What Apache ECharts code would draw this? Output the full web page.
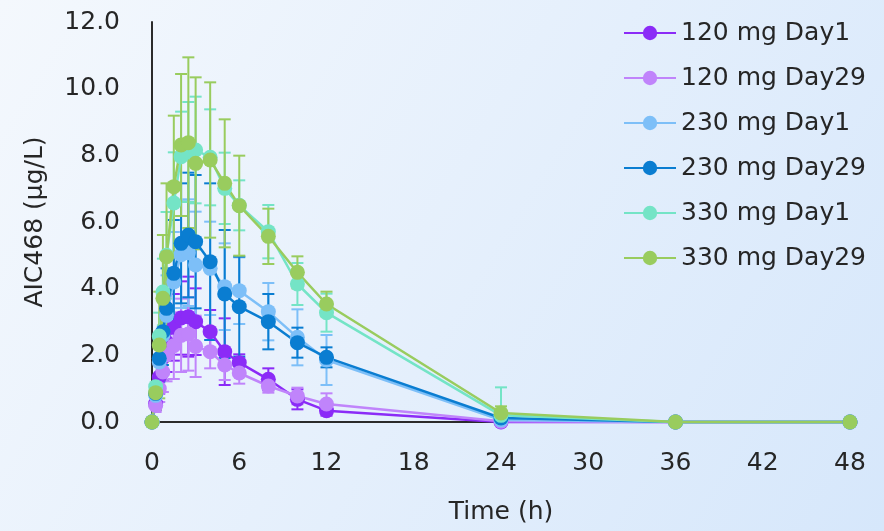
<!DOCTYPE html>
<html>
<head>
<meta charset="utf-8">
<title>AIC468 concentration-time</title>
<script src="https://cdn.jsdelivr.net/npm/echarts@6/dist/echarts.min.js"></script>
<style>
  html, body { margin: 0; padding: 0; }
  #chart { width: 884px; height: 531px; }
</style>
</head>
<body>
<div id="chart"></div>
<script>
// sampling times (h)
var times = [0, 0.25, 0.5, 0.75, 1, 1.5, 2, 2.5, 3, 4, 5, 6, 8, 10, 12, 24, 36, 48];

var seriesNames = ['120 mg Day1', '120 mg Day29', '230 mg Day1', '230 mg Day29', '330 mg Day1', '330 mg Day29'];
var seriesColors = ['#8b2bf7', '#c084fb', '#7dbff8', '#0a7dd1', '#74e4c6', '#99cc5e'];

// mean concentrations (ug/L)
var mean120d1  = [0, 0.55, 1.35, 1.95, 2.4, 2.84, 3.12, 3.16, 3.01, 2.71, 2.11, 1.78, 1.28, 0.68, 0.34, 0, 0, 0];
var mean120d29 = [0, 0.5, 1.0, 1.5, 2.02, 2.29, 2.6, 2.64, 2.27, 2.11, 1.71, 1.47, 1.08, 0.78, 0.54, 0.02, 0, 0];
var mean230d1  = [0, 0.8, 1.8, 2.6, 3.2, 4.2, 5.02, 5.08, 4.71, 4.61, 4.06, 3.94, 3.31, 2.54, 1.86, 0.06, 0, 0];
var mean230d29 = [0, 0.86, 1.91, 2.71, 3.41, 4.46, 5.36, 5.61, 5.41, 4.81, 3.84, 3.46, 3.01, 2.38, 1.94, 0.12, 0, 0];
var mean330d1  = [0, 1.06, 2.58, 3.9, 5.0, 6.57, 7.96, 8.1, 8.16, 7.94, 7.01, 6.5, 5.71, 4.14, 3.28, 0.2, 0, 0];
var mean330d29 = [0, 0.88, 2.31, 3.71, 4.96, 7.06, 8.31, 8.38, 7.76, 7.86, 7.16, 6.49, 5.57, 4.49, 3.54, 0.27, 0, 0];

// standard deviations
var sd120d1  = [0, 0.2, 0.5, 0.7, 0.9, 1.0, 1.1, 1.2, 1.0, 0.65, 1.0, 0.25, 0.33, 0.3, 0.15, 0, 0, 0];
var sd120d29 = [0, 0.2, 0.4, 0.6, 0.8, 1.0, 1.1, 1.1, 0.92, 0.5, 0.45, 0.32, 0.2, 0.25, 0.32, 0, 0, 0];
var sd230d1  = [0, 0.3, 0.8, 1.0, 1.2, 1.5, 1.6, 1.6, 1.6, 1.4, 1.3, 1.0, 0.86, 0.84, 0.75, 0.1, 0, 0];
var sd230d29 = [0, 0.3, 0.7, 1.0, 1.2, 1.6, 1.8, 1.87, 2.0, 2.35, 1.92, 1.5, 0.83, 0.45, 0.3, 0.1, 0, 0];
var sd330d1  = [0, 0.3, 0.7, 1.0, 1.3, 1.52, 1.35, 1.5, 1.6, 1.44, 1.07, 0.75, 0.8, 0.63, 0.57, 0.84, 0, 0];
var sd330d29 = [0, 0.5, 1.6, 1.9, 2.2, 2.13, 2.13, 2.56, 2.58, 2.33, 1.92, 1.5, 0.83, 0.48, 0.37, 0.2, 0, 0];

var yTicks = [0, 2, 4, 6, 8, 10, 12];
var xTicks = [0, 6, 12, 18, 24, 30, 36, 42, 48];

var means = [mean120d1, mean120d29, mean230d1, mean230d29, mean330d1, mean330d29];
var sds = [sd120d1, sd120d29, sd230d1, sd230d29, sd330d1, sd330d29];

var FONT = '"DejaVu Sans", Inter, sans-serif';
var TEXT = '#262626';

function renderErrorBar(params, api) {
    var t = api.value(0);
    var top = api.coord([t, api.value(2)]);
    var bot = api.coord([t, api.value(1)]);
    var hw = 6;
    var style = { stroke: api.visual('color'), lineWidth: 2 };
    return {
        type: 'group',
        children: [
            { type: 'line', shape: { x1: top[0], y1: top[1], x2: bot[0], y2: bot[1] }, style: style },
            { type: 'line', shape: { x1: top[0] - hw, y1: top[1], x2: top[0] + hw, y2: top[1] }, style: style },
            { type: 'line', shape: { x1: bot[0] - hw, y1: bot[1], x2: bot[0] + hw, y2: bot[1] }, style: style }
        ]
    };
}

function buildSeries() {
    var out = [];
    seriesNames.forEach(function(name, k) {
        var errData = [];
        var lineData = [];
        times.forEach(function(t, i) {
            var m = means[k][i], s = sds[k][i];
            lineData.push([t, m]);
            if (s > 0) errData.push([t, m - s, m + s]);
        });
        out.push({
            name: name + ' sd',
            type: 'custom',
            renderItem: renderErrorBar,
            itemStyle: { color: seriesColors[k] },
            data: errData,
            silent: true,
            clip: true
        });
        out.push({
            name: name,
            type: 'line',
            data: lineData,
            symbol: 'circle',
            symbolSize: 15,
            clip: false,
            itemStyle: { color: seriesColors[k] },
            lineStyle: { color: seriesColors[k], width: 2.5 },
            emphasis: { disabled: true }
        });
    });
    return out;
}

var chart = echarts.init(document.getElementById('chart'), null, { renderer: 'canvas' });

var option = {
    animation: false,
    backgroundColor: {
        type: 'linear', x: 0, y: 0, x2: 1, y2: 1,
        colorStops: [
            { offset: 0, color: '#f4f8fd' },
            { offset: 1, color: '#d6e7fb' }
        ]
    },
    textStyle: { fontFamily: FONT },
    grid: { left: 152, right: 34, top: 22, bottom: 109, containLabel: false, outerBoundsMode: 'none' },
    legend: {
        data: seriesNames,
        orient: 'vertical',
        left: 623,
        top: 18,
        padding: 0,
        itemWidth: 52,
        itemHeight: 18,
        itemGap: 15,
        textStyle: { fontFamily: FONT, fontSize: 25, color: TEXT, lineHeight: 30 }
    },
    xAxis: {
        type: 'value',
        min: xTicks[0],
        max: xTicks[xTicks.length - 1],
        interval: xTicks[1] - xTicks[0],
        name: 'Time (h)',
        nameLocation: 'middle',
        nameGap: 78,
        nameTextStyle: { fontFamily: FONT, fontSize: 25, color: TEXT },
        axisLine: { lineStyle: { color: '#2b2b2b', width: 2 } },
        axisTick: { show: false },
        splitLine: { show: false },
        axisLabel: { fontFamily: FONT, fontSize: 25, color: TEXT, margin: 29 }
    },
    yAxis: {
        type: 'value',
        min: yTicks[0],
        max: yTicks[yTicks.length - 1],
        interval: yTicks[1] - yTicks[0],
        name: 'AIC468 (μg/L)',
        nameLocation: 'middle',
        nameGap: 104,
        nameTextStyle: { fontFamily: FONT, fontSize: 25, color: TEXT },
        axisLine: { show: true, lineStyle: { color: '#2b2b2b', width: 2 } },
        axisTick: { show: false },
        splitLine: { show: false },
        axisLabel: {
            fontFamily: FONT, fontSize: 25, color: TEXT, margin: 32,
            formatter: function(v) { return v.toFixed(1); }
        }
    },
    series: buildSeries()
};

chart.setOption(option);
</script>
</body>
</html>
